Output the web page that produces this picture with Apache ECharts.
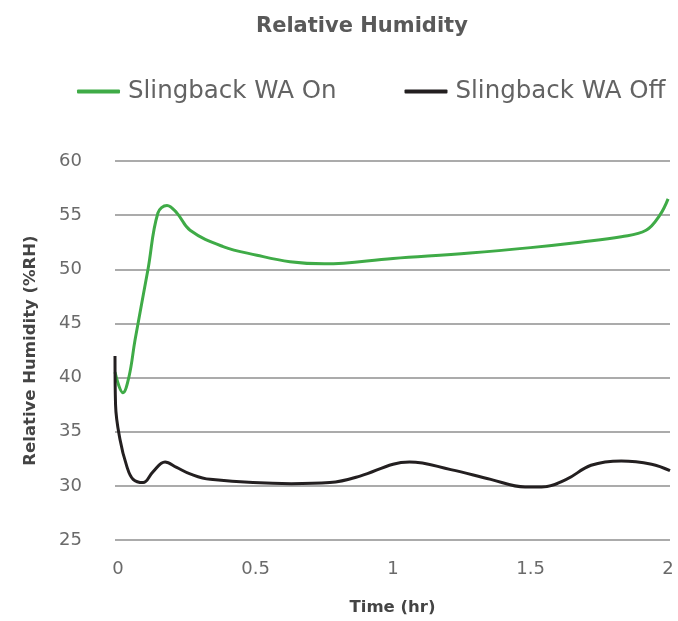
<!DOCTYPE html>
<html>
<head>
<meta charset="utf-8">
<script src="https://cdn.jsdelivr.net/npm/echarts@6/dist/echarts.min.js"></script>
<style>html,body{margin:0;padding:0;background:#fff;}#c{width:678px;height:621px;}</style>
</head>
<body>
<div id="c"></div>
<script>
const seriesNames = ['Slingback WA On', 'Slingback WA Off'];
const xTickLabels = [0, 0.5, 1, 1.5, 2];
const waOn = [
  [-0.011, 40.5], [0.018, 38.6], [0.04, 40.1], [0.062, 43.5], [0.109, 50.0],
  [0.145, 55.2], [0.178, 55.9], [0.214, 55.2], [0.262, 53.6], [0.382, 52.1],
  [0.505, 51.3], [0.625, 50.7], [0.75, 50.5], [1.0, 51.0], [1.28, 51.5],
  [1.5, 52.0], [1.68, 52.5], [1.83, 53.0], [1.92, 53.6], [1.97, 55.0], [2.0, 56.5]
];
const waOff = [
  [-0.011, 42.0], [-0.009, 37.5], [0.007, 34.3], [0.032, 31.8], [0.055, 30.6],
  [0.091, 30.3], [0.127, 31.3], [0.171, 32.2], [0.213, 31.7], [0.262, 31.1],
  [0.335, 30.6], [0.63, 30.2], [0.77, 30.3], [0.88, 30.9], [1.0, 32.0],
  [1.06, 32.2], [1.21, 31.5], [1.355, 30.6], [1.48, 29.9], [1.54, 29.9],
  [1.63, 30.6], [1.72, 31.9], [1.83, 32.3], [1.94, 32.0], [2.007, 31.4]
];
const FONT = 'DejaVu Sans';
const chart = echarts.init(document.getElementById('c'));
chart.setOption({
  animation: false,
  title: {
    text: 'Relative Humidity', left: 251, top: 11,
    textStyle: { fontFamily: FONT, fontSize: 21, fontWeight: 'bold', color: '#595959' }
  },
  legend: {
    top: 74, left: 72, width: 606, itemWidth: 43, itemHeight: 4, itemGap: 68,
    icon: 'roundRect',
    textStyle: { fontFamily: FONT, fontSize: 24.5, fontWeight: 'normal', color: '#636363', padding: [0, 0, 0, 3] },
    data: seriesNames
  },
  grid: { left: 115, right: 8, top: 161, bottom: 80 },
  xAxis: {
    type: 'value', min: -0.011, max: 2.007,
    name: 'Time (hr)', nameLocation: 'middle', nameGap: 59,
    nameTextStyle: { fontFamily: FONT, fontSize: 16.5, fontWeight: 'bold', color: '#444' },
    axisLine: { show: false }, axisTick: { show: false }, splitLine: { show: false },
    axisLabel: { customValues: xTickLabels, formatter: v => String(v), margin: 20,
      fontFamily: FONT, fontSize: 18, color: '#6a6a6a' }
  },
  yAxis: {
    type: 'value', min: 25, max: 60, interval: 5,
    name: 'Relative Humidity (%RH)', nameLocation: 'middle', nameGap: 76, nameRotate: 90,
    nameTextStyle: { fontFamily: FONT, fontSize: 16.5, fontWeight: 'bold', color: '#444' },
    axisLine: { show: false }, axisTick: { show: false },
    splitLine: { lineStyle: { color: '#8f8f8f', width: 1.5 } },
    axisLabel: { margin: 33, fontFamily: FONT, fontSize: 18, color: '#6a6a6a' }
  },
  series: [
    { name: seriesNames[0], type: 'line', data: waOn, smooth: 0.4, showSymbol: false,
      lineStyle: { color: '#3fab47', width: 3 }, itemStyle: { color: '#3fab47' } },
    { name: seriesNames[1], type: 'line', data: waOff, smooth: 0.4, showSymbol: false,
      lineStyle: { color: '#231f20', width: 3 }, itemStyle: { color: '#231f20' } }
  ]
});
</script>
</body>
</html>
